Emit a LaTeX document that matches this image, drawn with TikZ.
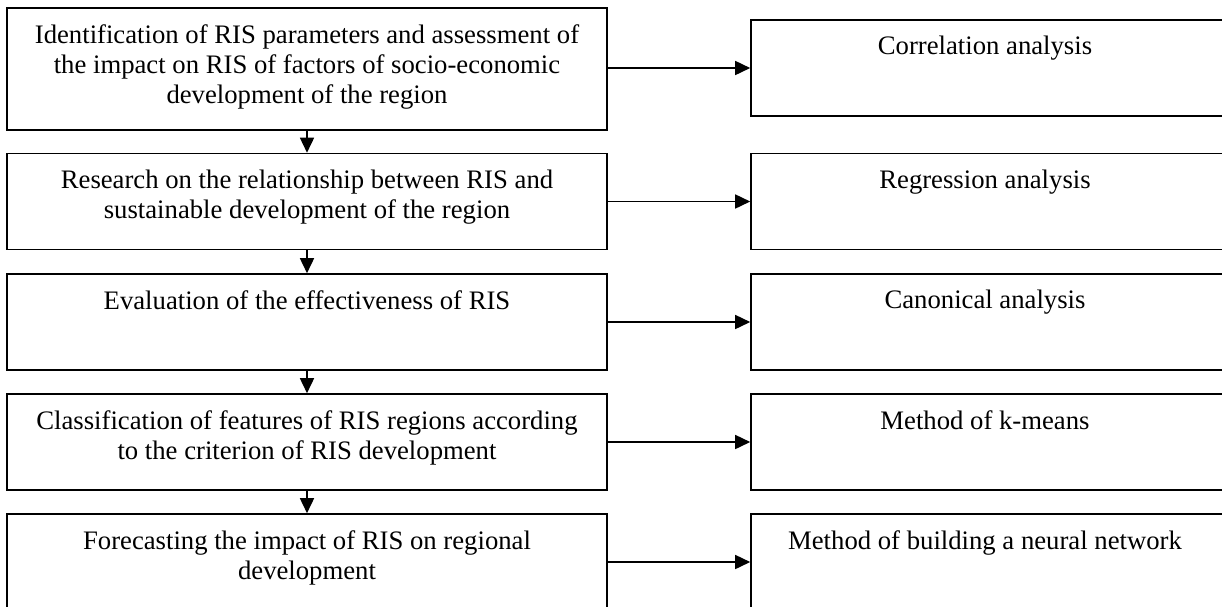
\documentclass[tikz,border=0pt]{standalone}
\usepackage{fontspec}
\setmainfont{Liberation Serif}
\usetikzlibrary{arrows.meta,positioning}
\begin{document}
\begin{tikzpicture}[x=1pt, y=-1pt,
   box/.style={draw, line width=1.6pt, inner sep=0pt, minimum width=600pt, minimum height=96pt},
   mbox/.style={box, minimum width=480pt},
   txt/.style={inner sep=0pt, align=center, font=\fontsize{26.7}{30}\selectfont},
   mtxt/.style={txt, xshift=-6pt},
   arr/.style={-{Triangle[length=15pt,width=14pt]}, line width=1.6pt},
   node distance=17pt]

\useasboundingbox (0,0) rectangle (1222,606);
\clip (0,0) rectangle (1222,606);

% research steps
\node[box, minimum height=122pt] (s1) at (307,69) {};
\node[box] (s2) at (307,201.5) {};
\node[box] (s3) at (307,322) {};
\node[box] (s4) at (307,442) {};
\node[box] (s5) at (307,562) {};

% methods
\node[mbox] (m1) at (991,68) {};
\node[mbox] (m2) at (991,201.5) {};
\node[mbox] (m3) at (991,322) {};
\node[mbox] (m4) at (991,442) {};
\node[mbox] (m5) at (991,562) {};

\node[txt, below=of s1.north] (t1) {Identification of RIS parameters and assessment of\\
    the impact on RIS of factors of socio-economic\\ development of the region};
\node[txt, below=of s2.north] (t2) {Research on the relationship between RIS and\\
    sustainable development of the region};
\node[txt, below=of s3.north] (t3) {Evaluation of the effectiveness of RIS};
\node[txt, below=of s4.north] (t4) {Classification of features of RIS regions according\\
    to the criterion of RIS development};
\node[txt, below=of s5.north] (t5) {Forecasting the impact of RIS on regional\\ development};

\node[mtxt, below=of m1.north] (u1) {Correlation analysis};
\node[mtxt, below=of m2.north] (u2) {Regression analysis};
\node[mtxt, below=of m3.north] (u3) {Canonical analysis};
\node[mtxt, below=of m4.north] (u4) {Method of k-means};
\node[mtxt, below=of m5.north] (u5) {Method of building a neural network};

\draw[arr] (s1) -- (s2);
\draw[arr] (s2) -- (s3);
\draw[arr] (s3) -- (s4);
\draw[arr] (s4) -- (s5);

\draw[arr] (s1.east |- m1.west) -- (m1.west);
\draw[arr] (s2.east) -- (m2.west);
\draw[arr] (s3.east) -- (m3.west);
\draw[arr] (s4.east) -- (m4.west);
\draw[arr] (s5.east) -- (m5.west);

\end{tikzpicture}
\end{document}
